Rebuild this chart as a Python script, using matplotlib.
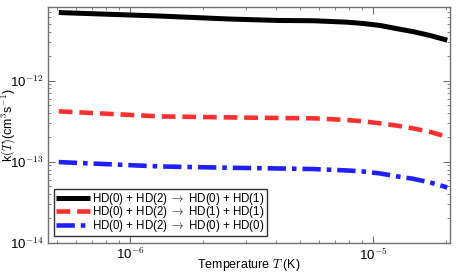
import numpy as np
import matplotlib
matplotlib.use('Agg')
import matplotlib.pyplot as plt
from matplotlib.ticker import FuncFormatter

plt.rcParams['font.family'] = ['Liberation Sans', 'DejaVu Sans']
plt.rcParams['mathtext.fontset'] = 'cm'

# Temperature (K) and rate coefficients (cm^3 s^-1)
temp = [5.1e-7, 1.33e-6, 2.58e-6, 4.1e-6, 5.66e-6, 7.82e-6, 9.1e-6,
        1.07e-5, 1.26e-5, 1.46e-5, 1.72e-5, 2.02e-5]
k_01 = [6.9e-12, 6.25e-12, 5.74e-12, 5.51e-12, 5.47e-12, 5.25e-12, 5.06e-12,
        4.78e-12, 4.35e-12, 4.02e-12, 3.59e-12, 3.15e-12]
k_11 = [4.18e-13, 3.62e-13, 3.52e-13, 3.46e-13, 3.43e-13, 3.27e-13, 3.15e-13,
        2.97e-13, 2.78e-13, 2.58e-13, 2.33e-13, 2.02e-13]
k_00 = [9.9e-14, 8.75e-14, 8.43e-14, 8.26e-14, 8.13e-14, 7.81e-14, 7.58e-14,
        7.17e-14, 6.59e-14, 6.17e-14, 5.55e-14, 4.82e-14]

labels = [r"HD(0) + HD(2) $\rightarrow$ HD(0) + HD(1)",
          r"HD(0) + HD(2) $\rightarrow$ HD(1) + HD(1)",
          r"HD(0) + HD(2) $\rightarrow$ HD(0) + HD(0)"]
x_ticks = [1e-6, 1e-5]
y_ticks = [1e-14, 1e-13, 1e-12]

fig = plt.figure(figsize=(4.6, 2.76), dpi=100)
ax = fig.add_axes([0.104, 0.12, 0.874, 0.855])

ax.plot(temp, k_01, color='black', lw=3.6, solid_capstyle='butt', label=labels[0])
ax.plot(temp, k_11, color='#ff3030', lw=3.3, ls=(0, (3, 1.5)), label=labels[1])
ax.plot(temp, k_00, color='#2020ff', lw=3.3, ls=(0, (4, 1.3, 1, 1.3)), label=labels[2])

ax.set_xscale('log')
ax.set_yscale('log')
ax.set_xlim(4.6e-7, 2.07e-5)
ax.set_ylim(1e-14, 8.1e-12)
ax.set_xticks(x_ticks)
ax.set_yticks(y_ticks)

def pow_fmt(v, pos):
    e = int(round(np.log10(v)))
    return r"10$^{\mathsf{%d}}$" % e

ax.xaxis.set_major_formatter(FuncFormatter(pow_fmt))
ax.yaxis.set_major_formatter(FuncFormatter(pow_fmt))

for s in ax.spines.values():
    s.set_color('#707070')
    s.set_linewidth(1.0)
ax.tick_params(which='both', direction='in', top=True, right=True, color='#707070', labelsize=9.5)
ax.tick_params(which='major', length=5, pad=3)
ax.tick_params(which='minor', length=2.5)

ax.set_xlabel(r"Temperature $T$ (K)", fontsize=9, va='center')
ax.xaxis.set_label_coords(0.5, -0.093)
ax.set_ylabel(r"k$(T)$(cm$^3$s$^{-1}$)", fontsize=9, va='center')
ax.yaxis.set_label_coords(-0.098, 0.5)

leg = ax.legend(loc='lower left', bbox_to_anchor=(0.01, 0.02), fontsize=8.3, frameon=True,
                fancybox=False, handlelength=2.9, handletextpad=0.2, borderpad=0.2,
                labelspacing=-0.25, borderaxespad=0.2)
leg.get_frame().set_edgecolor('black')
leg.get_frame().set_linewidth(1.0)

fig.savefig('out.png', dpi=100)
